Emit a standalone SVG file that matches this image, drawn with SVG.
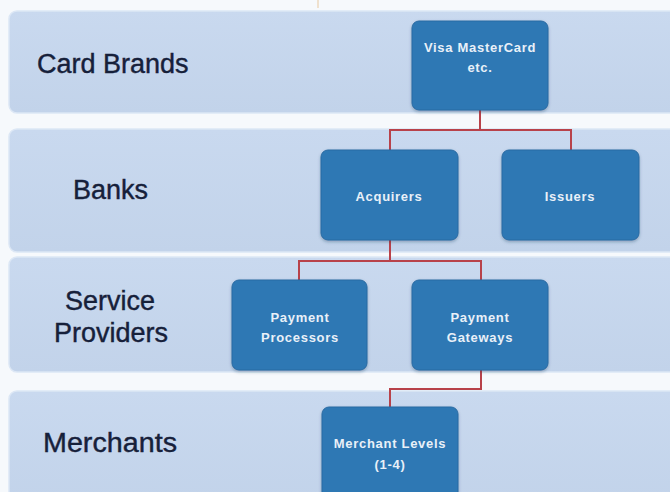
<svg xmlns="http://www.w3.org/2000/svg" width="670" height="492" viewBox="0 0 670 492">
<defs>
<linearGradient id="bandG" x1="0" y1="0" x2="0" y2="1">
<stop offset="0" stop-color="#c9d9ef"/>
<stop offset="1" stop-color="#c2d3ea"/>
</linearGradient>
<filter id="sh" x="-10%" y="-10%" width="120%" height="125%">
<feDropShadow dx="0" dy="1.5" stdDeviation="1.5" flood-color="#1b3b5c" flood-opacity="0.35"/>
</filter>
</defs>
<style>
.band{fill:url(#bandG);stroke:#dce7f5;stroke-width:1.5}
.node{fill:#2f78b4;stroke:#2a6ba3;stroke-width:1;filter:url(#sh)}
.lbl{font-family:"Liberation Sans",Arial,sans-serif;font-size:27px;fill:#16203a;stroke:#16203a;stroke-width:0.4}
.nt{font-family:"Liberation Sans",Arial,sans-serif;font-size:13px;font-weight:bold;fill:#e9f0f8;text-anchor:middle;letter-spacing:0.7px}
.conn{fill:none;stroke:#b8424a;stroke-width:2}
</style>
<rect x="0" y="0" width="670" height="492" fill="#f6f9fc"/>
<line x1="318" y1="0" x2="318" y2="8" stroke="#e8c9a0" stroke-width="1"/>
<g id="band-card-brands">
<rect class="band" x="9" y="11" width="668" height="102" rx="8"/>
<text class="lbl" x="37" y="73">Card Brands</text>
</g>
<g id="band-banks">
<rect class="band" x="9" y="129" width="668" height="123" rx="8"/>
<text class="lbl" x="73" y="199">Banks</text>
</g>
<g id="band-service-providers">
<rect class="band" x="9" y="257" width="668" height="115" rx="8"/>
<text class="lbl" x="110" y="310" text-anchor="middle">Service</text>
<text class="lbl" x="111" y="342" text-anchor="middle">Providers</text>
</g>
<g id="band-merchants">
<rect class="band" x="9" y="391" width="668" height="112" rx="8"/>
<text class="lbl" x="43" y="452" textLength="134" lengthAdjust="spacingAndGlyphs">Merchants</text>
</g>
<g id="connectors">
<path class="conn" d="M480 110 V130 M390 150 V130 H571 V150"/>
<path class="conn" d="M390 240 V261 M299 280 V261 H481 V280"/>
<path class="conn" d="M481 370 V389 H390 V407"/>
</g>
<g id="node-visa">
<rect class="node" x="412" y="21" width="136" height="89" rx="7"/>
<text class="nt" x="480" y="52">Visa MasterCard</text>
<text class="nt" x="480" y="72">etc.</text>
</g>
<g id="node-acquirers">
<rect class="node" x="321" y="150" width="137" height="90" rx="7"/>
<text class="nt" x="389" y="201">Acquirers</text>
</g>
<g id="node-issuers">
<rect class="node" x="502" y="150" width="137" height="90" rx="7"/>
<text class="nt" x="570" y="201">Issuers</text>
</g>
<g id="node-payment-processors">
<rect class="node" x="232" y="280" width="135" height="90" rx="7"/>
<text class="nt" x="300" y="322">Payment</text>
<text class="nt" x="300" y="342">Processors</text>
</g>
<g id="node-payment-gateways">
<rect class="node" x="412" y="280" width="136" height="90" rx="7"/>
<text class="nt" x="480" y="322">Payment</text>
<text class="nt" x="480" y="342">Gateways</text>
</g>
<g id="node-merchant-levels">
<rect class="node" x="322" y="407" width="136" height="95" rx="7"/>
<text class="nt" x="390" y="448">Merchant Levels</text>
<text class="nt" x="390" y="469">(1-4)</text>
</g>
</svg>
